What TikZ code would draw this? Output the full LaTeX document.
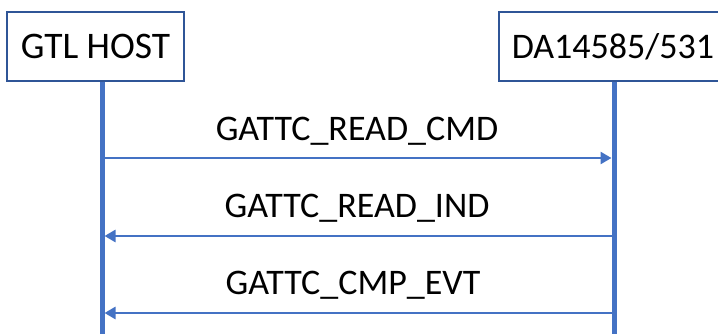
\documentclass[tikz,border=0pt]{standalone}
\usepackage{fontspec}
\setmainfont{Carlito}
\usetikzlibrary{arrows.meta}
\definecolor{boxblue}{HTML}{2F5597}
\definecolor{lineblue}{HTML}{4472C4}
\begin{document}
\begin{tikzpicture}[x=1pt,y=-1pt,
  actor/.style={draw=boxblue,line width=1.5pt,fill=white,minimum height=69pt,inner sep=0pt,font=\fontsize{37.5}{44}\selectfont},
  lifeline/.style={draw=lineblue,line width=5pt},
  msg/.style={draw=lineblue,line width=2.6pt,-{Triangle[length=11pt,width=12pt]}},
  msglabel/.style={anchor=base,inner sep=0pt,font=\fontsize{36}{43}\selectfont}]
\useasboundingbox (0,0) rectangle (718,334);
\clip (0,0) rectangle (718,334);
\node[actor,minimum width=177pt] (host) at (95.5,46.5) {GTL HOST};
\node[actor,anchor=west,text width=212pt,inner xsep=13pt,align=left,font=\fontsize{36}{43}\selectfont] (da) at (498,46.5) {DA14585/531};
\coordinate (hostend) at (102,340);
\coordinate (daend) at (614,340);
\draw[lifeline] (host.south -| hostend) -- (hostend);
\draw[lifeline] (da.south -| daend) -- (daend);
\coordinate (h1) at (104,158);
\coordinate (d1) at (611.5,158);
\coordinate (h2) at (104.5,236);
\coordinate (d2) at (612,236);
\coordinate (h3) at (104.5,313);
\coordinate (d3) at (612,313);
\draw[msg] (h1) -- (d1);
\draw[msg] (d2) -- (h2);
\draw[msg] (d3) -- (h3);
\node[msglabel] (l1) at (357,141) {GATTC\_READ\_CMD};
\node[msglabel] (l2) at (357,218) {GATTC\_READ\_IND};
\node[msglabel] (l3) at (353,294) {GATTC\_CMP\_EVT};
\end{tikzpicture}
\end{document}
